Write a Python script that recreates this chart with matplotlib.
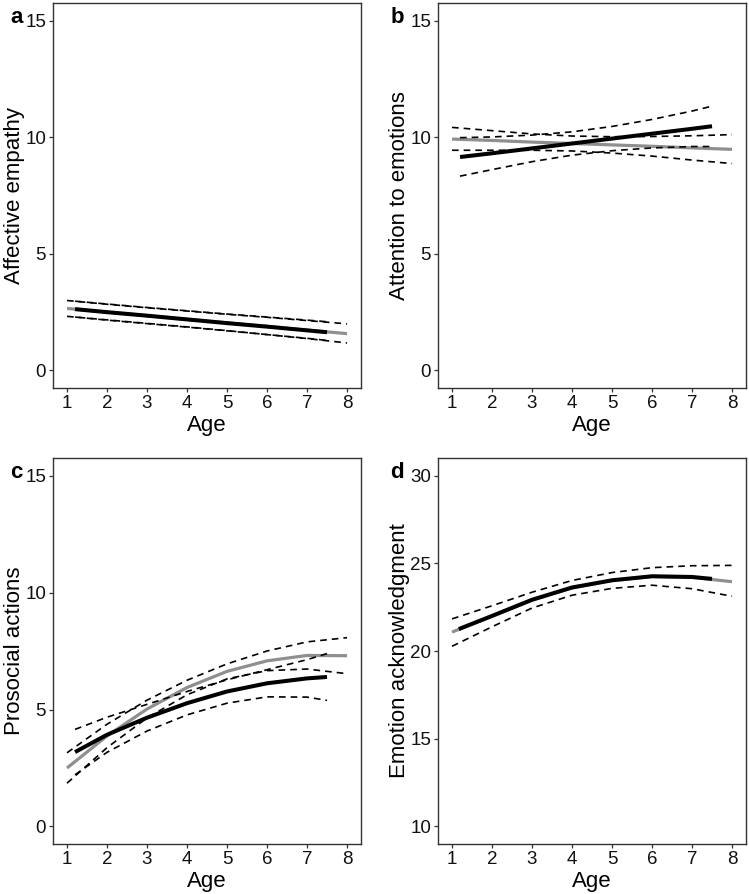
import numpy as np
import matplotlib.pyplot as plt

plt.rcParams['font.family'] = ['Liberation Sans', 'DejaVu Sans']

# ---- data ----
# panel a: Affective empathy
a_gray_x = [1, 2, 3, 4, 5, 6, 7, 8]
a_gray_y = [2.66, 2.50, 2.35, 2.19, 2.04, 1.89, 1.73, 1.58]
a_gray_hi = [3.00, 2.84, 2.69, 2.55, 2.41, 2.28, 2.14, 2.00]
a_gray_lo = [2.32, 2.17, 2.02, 1.87, 1.71, 1.54, 1.37, 1.18]
a_black_x = [1.2, 2, 3, 4, 5, 6, 7, 7.5]
a_black_y = [2.63, 2.50, 2.35, 2.19, 2.03, 1.88, 1.72, 1.64]
a_black_hi = [2.97, 2.85, 2.70, 2.56, 2.42, 2.29, 2.16, 2.09]
a_black_lo = [2.29, 2.16, 2.01, 1.86, 1.70, 1.54, 1.38, 1.29]

# panel b: Attention to emotions
b_gray_x = [1, 2, 3, 4, 5, 6, 7, 8]
b_gray_y = [9.92, 9.86, 9.79, 9.73, 9.67, 9.61, 9.54, 9.48]
b_gray_hi = [10.42, 10.28, 10.14, 10.05, 10.02, 10.03, 10.06, 10.11]
b_gray_lo = [9.44, 9.44, 9.44, 9.41, 9.32, 9.19, 9.02, 8.87]
b_black_x = [1.2, 2, 3, 4, 5, 6, 7, 7.5]
b_black_y = [9.15, 9.31, 9.52, 9.73, 9.94, 10.15, 10.36, 10.47]
b_black_hi = [9.98, 10.01, 10.09, 10.23, 10.46, 10.76, 11.12, 11.33]
b_black_lo = [8.33, 8.61, 8.95, 9.23, 9.42, 9.54, 9.60, 9.60]

# panel c: Prosocial actions
c_gray_x = [1, 2, 3, 4, 5, 6, 7, 8]
c_gray_y = [2.50, 3.87, 5.02, 5.94, 6.63, 7.08, 7.31, 7.30]
c_gray_hi = [3.15, 4.37, 5.40, 6.25, 6.95, 7.50, 7.89, 8.07]
c_gray_lo = [1.85, 3.37, 4.64, 5.63, 6.31, 6.66, 6.73, 6.53]
c_black_x = [1.2, 2, 3, 4, 5, 6, 7, 7.5]
c_black_y = [3.18, 3.92, 4.65, 5.27, 5.77, 6.12, 6.33, 6.39]
c_black_hi = [4.15, 4.67, 5.22, 5.77, 6.27, 6.70, 7.13, 7.39]
c_black_lo = [2.21, 3.17, 4.08, 4.77, 5.27, 5.54, 5.53, 5.39]

# panel d: Emotion acknowledgment
d_gray_x = [1, 2, 3, 4, 5, 6, 7, 8]
d_gray_y = [21.08, 21.98, 22.90, 23.60, 24.02, 24.25, 24.20, 23.95]
d_gray_hi = [21.83, 22.58, 23.35, 24.02, 24.47, 24.75, 24.86, 24.88]
d_gray_lo = [20.27, 21.38, 22.45, 23.18, 23.57, 23.75, 23.55, 23.12]
d_black_x = [1.17, 2, 3, 4, 5, 6, 7, 7.5]
d_black_y = [21.25, 22.00, 22.92, 23.62, 24.03, 24.26, 24.22, 24.11]

ages = [1, 2, 3, 4, 5, 6, 7, 8]

panels = [
    ('a', 'Affective empathy', [0, 5, 10, 15], (-0.75, 15.75),
     [0.0708, 0.566, 0.4112, 0.4306],
     a_gray_x, a_gray_y, a_gray_hi, a_gray_lo,
     a_black_x, a_black_y, a_black_hi, a_black_lo),
    ('b', 'Attention to emotions', [0, 5, 10, 15], (-0.75, 15.75),
     [0.5848, 0.566, 0.4112, 0.4306],
     b_gray_x, b_gray_y, b_gray_hi, b_gray_lo,
     b_black_x, b_black_y, b_black_hi, b_black_lo),
    ('c', 'Prosocial actions', [0, 5, 10, 15], (-0.75, 15.75),
     [0.0708, 0.0559, 0.4112, 0.4318],
     c_gray_x, c_gray_y, c_gray_hi, c_gray_lo,
     c_black_x, c_black_y, c_black_hi, c_black_lo),
    ('d', 'Emotion acknowledgment', [10, 15, 20, 25, 30], (9, 31),
     [0.5848, 0.0559, 0.4112, 0.4318],
     d_gray_x, d_gray_y, d_gray_hi, d_gray_lo,
     d_black_x, d_black_y, None, None),
]

fig = plt.figure(figsize=(7.49, 8.94), dpi=100)

dash = (0, (4, 3))
for (lab, ylab, yt, ylim, pos, gx, gy, ghi, glo, bx, by, bhi, blo) in panels:
    ax = fig.add_axes(pos)
    ax.plot(gx, gy, color='#8f8f8f', lw=2.3, solid_capstyle='butt', zorder=2)
    ax.plot(bx, by, color='black', lw=2.9, solid_capstyle='butt', zorder=3)
    ax.plot(gx, ghi, color='black', lw=1.2, ls=dash, zorder=4)
    ax.plot(gx, glo, color='black', lw=1.2, ls=dash, zorder=4)
    if bhi is not None:
        ax.plot(bx, bhi, color='black', lw=1.2, ls=dash, zorder=4)
        ax.plot(bx, blo, color='black', lw=1.2, ls=dash, zorder=4)

    ax.set_xlim(0.65, 8.35)
    ax.set_ylim(*ylim)
    ax.set_xticks(ages)
    ax.set_yticks(yt)
    ax.tick_params(direction='out', length=3, width=0.9, color='#333333',
                   labelsize=13.5, labelcolor='#111111', pad=2)
    for s in ax.spines.values():
        s.set_color('#333333')
        s.set_linewidth(1.0)
    ax.set_xlabel('Age', fontsize=16, labelpad=2)
    ax.set_ylabel(ylab, fontsize=16, labelpad=0)

    # panel letter
    fx = 0.022 if pos[0] < 0.5 else 0.530
    fy = pos[1] + pos[3] - 0.004
    fig.text(fx, fy, lab, fontsize=16, fontweight='bold', ha='center', va='top')

plt.savefig('out.png', dpi=100)
